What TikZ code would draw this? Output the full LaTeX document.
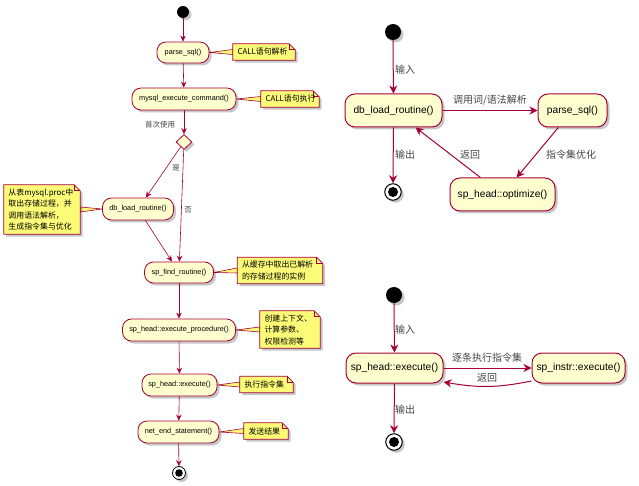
\documentclass[tikz,border=0pt]{standalone}
\usepackage{fontspec}
\setmainfont{Liberation Sans}
\newfontfamily\cjk{Noto Sans CJK SC}
\usetikzlibrary{shapes.geometric,arrows.meta,shadows,backgrounds}
\definecolor{uml}{HTML}{A80036}
\definecolor{boxfill}{HTML}{FEFECE}
\definecolor{notefill}{HTML}{FBFB77}
\definecolor{lbl}{HTML}{444444}
\tikzset{
  shad/.style={drop shadow={shadow xshift=2.5pt,shadow yshift=-2.5pt,opacity=0.22,fill=black}},
  boxL/.style={draw=uml,fill=boxfill,rounded corners=9pt,line width=0.8pt,inner sep=0pt,
    font=\fontsize{7.3}{8}\selectfont,shad},
  boxR/.style={draw=uml,fill=boxfill,rounded corners=10pt,line width=1pt,inner sep=0pt,
    font=\fontsize{10.2}{12}\selectfont,shad},
  notetxt/.style={inner xsep=4.5pt,inner ysep=0pt,align=left,
    font=\cjk\fontsize{7.9}{11.5}\selectfont},
  notebg/.style={fill=notefill,draw=uml,line width=0.7pt},
  startL/.style={circle,fill=black,minimum size=12pt,inner sep=0pt,shad},
  startR/.style={circle,fill=black,minimum size=16pt,inner sep=0pt,shad},
  endL/.style={circle,draw=black,fill=white,line width=0.8pt,minimum size=13pt,inner sep=0pt,shad,
    path picture={\fill[black] (path picture bounding box.center) circle (3.8pt);}},
  endR/.style={circle,draw=black,fill=white,line width=1pt,minimum size=16.5pt,inner sep=0pt,shad,
    path picture={\fill[black] (path picture bounding box.center) circle (5pt);}},
  arrL/.style={draw=uml,line width=0.6pt,-{Stealth[length=6pt,width=5.5pt,inset=2pt]}},
  arrR/.style={draw=uml,line width=1pt,-{Stealth[length=8pt,width=8pt,inset=2.5pt]}},
  lblL/.style={text=lbl,inner sep=0pt,font=\cjk\fontsize{7.5}{8}\selectfont},
  lblR/.style={text=lbl,inner sep=0pt,font=\cjk\fontsize{10}{12}\selectfont},
}
\newcommand\notefold[1]{%
  \path[notebg,shad] (#1.south west) -- (#1.north west) -- ([xshift=-6pt]#1.north east)
    -- ([yshift=-6pt]#1.north east) -- (#1.south east) -- cycle;
  \draw[uml,line width=0.7pt] ([xshift=-6pt]#1.north east) -- ([xshift=-6pt,yshift=-6pt]#1.north east)
    -- ([yshift=-6pt]#1.north east);}
\newcommand\notelink[2]{%
  \path[notebg,line width=0.6pt] (#1) -- ([yshift=2.5pt]#2) -- ([yshift=-2.5pt]#2) -- cycle;}
\begin{document}
\begin{tikzpicture}[x=1pt,y=-1pt]
\useasboundingbox (0,0) rectangle (639,486);
% ---------------- left activity diagram ----------------
\node[startL] (ls) at (183,12) {};
\node[boxL,minimum width=52pt,minimum height=21pt] (lparse) at (183,52.5) {parse\_sql()};
\node[boxL,minimum width=104pt,minimum height=22pt] (lmysql) at (184,99) {mysql\_execute\_command()};
\node[diamond,draw=uml,fill=boxfill,line width=0.8pt,minimum width=16pt,minimum height=15pt,inner sep=0pt,shad] (ldia) at (184,142) {};
\node[boxL,minimum width=71pt,minimum height=22pt] (ldb) at (138,209) {db\_load\_routine()};
\node[boxL,minimum width=69pt,minimum height=21pt] (lfind) at (179,272.5) {sp\_find\_routine()};
\node[boxL,minimum width=113pt,minimum height=22pt] (lproc) at (179,330) {sp\_head::execute\_procedure()};
\node[boxL,minimum width=75pt,minimum height=22pt] (lexec) at (179.5,385) {sp\_head::execute()};
\node[boxL,minimum width=81pt,minimum height=22pt] (lnet) at (178.5,432) {net\_end\_statement()};
\node[endL] (le) at (179,473) {};

\node[notetxt,text width=53pt,minimum height=16pt] (n1) at (264,52) {CALL语句解析};
\node[notetxt,text width=49pt,minimum height=16pt] (n2) at (290,99) {CALL语句执行};
\node[notetxt,text width=67pt,minimum height=49pt] (n3) at (42,209.5) {从表mysql.proc中\\取出存储过程，并\\调用语法解析，\\生成指令集与优化};
\node[notetxt,text width=76pt,minimum height=26pt] (n4) at (280,270.5) {从缓存中取出已解析\\的存储过程的实例};
\node[notetxt,text width=51pt,minimum height=37pt] (n5) at (290,329.5) {创建上下文、\\计算参数、\\权限检测等};
\node[notetxt,text width=44pt,minimum height=16pt] (n6) at (266.5,384.5) {执行指令集};
\node[notetxt,text width=35pt,minimum height=16pt] (n7) at (266,431) {发送结果};

\node[lblL] (l1) at (160,125) {首次使用};
\node[lblL] (l2) at (176,168) {是};
\node[lblL] (l3) at (188,210) {否};

\draw[arrL] (ls) -- (lparse);
\draw[arrL] (lparse) -- (lmysql);
\draw[arrL] (lmysql) -- (ldia);
\draw[arrL] (ldia) -- (ldb);
\draw[arrL] (ldia) -- (lfind);
\draw[arrL] (ldb) -- (lfind);
\draw[arrL] (lfind) -- (lproc);
\draw[arrL] (lproc) -- (lexec);
\draw[arrL] (lexec) -- (lnet);
\draw[arrL] (lnet) -- (le);

\begin{scope}[on background layer]
  \notelink{lparse.east}{n1.west}
  \notelink{lmysql.east}{n2.west}
  \notelink{ldb.west}{n3.east}
  \notelink{lfind.east}{n4.west}
  \notelink{lproc.east}{n5.west}
  \notelink{lexec.east}{n6.west}
  \notelink{lnet.east}{n7.west}
  \notefold{n1}\notefold{n2}\notefold{n3}\notefold{n4}\notefold{n5}\notefold{n6}\notefold{n7}
\end{scope}

% ---------------- right top state diagram ----------------
\node[startR] (rs1) at (393,32) {};
\node[boxR,minimum width=97pt,minimum height=33pt] (rdb) at (393.5,110.5) {db\_load\_routine()};
\node[boxR,minimum width=69pt,minimum height=33pt] (rparse) at (572.5,110.5) {parse\_sql()};
\node[boxR,minimum width=105pt,minimum height=33pt] (ropt) at (502.5,194.5) {sp\_head::optimize()};
\node[endR] (re1) at (393,192) {};

\draw[arrR] (rs1) -- (rdb);
\draw[arrR] (rdb) -- (rparse);
\draw[arrR] (rparse) -- (ropt);
\draw[arrR] (ropt) -- (rdb);
\draw[arrR] (rdb) -- (re1);

\node[lblR] (r1) at (405,70) {输入};
\node[lblR] (r2) at (490,100) {调用词/语法解析};
\node[lblR] (r3) at (571,155) {指令集优化};
\node[lblR] (r4) at (470,155) {返回};
\node[lblR] (r5) at (405,155) {输出};

% ---------------- right bottom state diagram ----------------
\node[startR] (rs2) at (394,295) {};
\node[boxR,minimum width=97pt,minimum height=30pt] (rhead) at (394.5,368) {sp\_head::execute()};
\node[boxR,minimum width=93pt,minimum height=30pt] (rinstr) at (578.5,368) {sp\_instr::execute()};
\node[endR] (re2) at (394,442) {};

\coordinate (cA) at ([yshift=-13pt]rinstr.west);
\coordinate (cB) at ([yshift=-14pt]rhead.east);
\draw[arrR] (rs2) -- (rhead);
\draw[arrR] (rhead) -- (rinstr);
\draw[arrR] (cA) .. controls ([xshift=-35pt,yshift=-7pt]cA) and ([xshift=35pt,yshift=-6pt]cB) .. (cB);
\draw[arrR] (rhead) -- (re2);

\node[lblR] (r6) at (405,330) {输入};
\node[lblR] (r7) at (487,358) {逐条执行指令集};
\node[lblR] (r8) at (487,378) {返回};
\node[lblR] (r9) at (405,410) {输出};
\end{tikzpicture}
\end{document}
